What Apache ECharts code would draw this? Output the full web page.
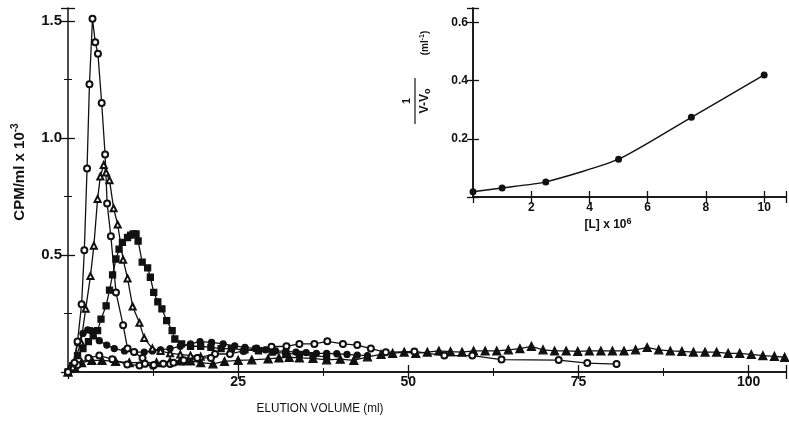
<!DOCTYPE html>
<html>
<head>
<meta charset="utf-8">
<script src="https://cdn.jsdelivr.net/npm/echarts@6/dist/echarts.min.js"></script>
<style>
  html, body { margin: 0; padding: 0; background: #fff; }
  #chart { width: 789px; height: 425px; }
</style>
</head>
<body>
<div id="chart"></div>
<script>
// elution profiles [ml, cpm/ml x 10^-3]
const openCircle = [[0,0],[0.95,0.04],[1.4,0.13],[2.0,0.29],[2.4,0.52],[2.8,0.87],[3.15,1.23],[3.6,1.51],[4.0,1.41],[4.4,1.36],[4.95,1.15],[5.45,0.93],[5.75,0.72],[6.3,0.58],[7.05,0.34],[8.1,0.2],[8.75,0.1],[9.7,0.085],[10.95,0.06],[11.3,0.035],[12.6,0.03],[14,0.035],[15.5,0.04],[17,0.05],[19,0.06],[21,0.06]];
const openTriangle = [[0,0],[0.7,0.02],[1.9,0.127],[2.6,0.27],[3.3,0.41],[3.8,0.54],[4.35,0.74],[4.75,0.836],[5.25,0.885],[5.6,0.853],[6.1,0.82],[6.7,0.70],[7.3,0.63],[8.1,0.48],[8.75,0.40],[9.5,0.28],[10.5,0.21],[11.2,0.145],[12.4,0.1],[13.6,0.09],[15,0.08],[16.5,0.075],[18,0.07],[19.5,0.065]];
const filledSquare = [[0,0],[0.7,0.027],[1.4,0.07],[2.2,0.1],[3,0.13],[3.7,0.155],[4.35,0.177],[4.85,0.226],[5.6,0.283],[6.1,0.35],[6.55,0.415],[7.05,0.483],[7.5,0.525],[8,0.554],[8.75,0.575],[9.2,0.585],[9.6,0.59],[10,0.59],[10.3,0.56],[10.9,0.47],[11.7,0.445],[12.1,0.405],[12.6,0.34],[13.2,0.3],[13.8,0.27],[14.5,0.22],[15.3,0.177],[15.7,0.141],[16.7,0.12],[18,0.11],[19.5,0.11],[21,0.105],[22.5,0.1],[24,0.1],[26,0.095],[28,0.09],[30,0.085],[32,0.08],[34,0.075],[36,0.07],[38,0.065]];
const filledCircle = [[0,0],[0.7,0.03],[1.4,0.125],[2.2,0.165],[2.9,0.18],[3.4,0.177],[4.6,0.134],[5.7,0.115],[6.8,0.1],[8.3,0.09],[9.8,0.085],[11.2,0.085],[12.4,0.09],[13.6,0.095],[15,0.1],[16.5,0.11],[18,0.12],[19.4,0.13],[21.1,0.127],[22.8,0.12],[24.5,0.112],[26,0.105],[27.5,0.1],[29,0.095],[30.5,0.09],[32,0.088],[33.5,0.085],[35,0.083],[36.5,0.08],[38,0.08],[39.5,0.078],[41,0.075],[42.5,0.072],[44,0.07]];
const openSquare = [[0,0],[1.4,0.03],[3,0.06],[4.6,0.07],[6.5,0.055],[8.7,0.032],[10.5,0.028],[12.5,0.027],[15,0.034],[17,0.045],[19.1,0.06],[21.6,0.077],[23.8,0.077],[25.8,0.09],[27.7,0.1],[29.9,0.108],[32.1,0.11],[34,0.12],[36.2,0.12],[38.1,0.131],[40.4,0.12],[42.5,0.115],[44.5,0.1],[46.7,0.084],[50.9,0.088],[55.3,0.07],[59.4,0.07],[63.7,0.053],[72.1,0.051],[76.3,0.038],[80.6,0.034]];
const filledTriangle = [[0,0],[1,0.02],[2,0.04],[3.5,0.05],[5,0.05],[7,0.045],[9,0.04],[11,0.04],[13,0.04],[15,0.045],[16.5,0.048],[18,0.048],[19.5,0.04],[21.3,0.035],[23,0.045],[25,0.05],[27,0.052],[29.4,0.056],[31,0.06],[32.5,0.063],[34,0.06],[36,0.058],[38,0.052],[40,0.055],[42,0.05],[44,0.065],[46,0.075],[47.7,0.08],[49.4,0.085],[51.1,0.08],[52.8,0.085],[54.5,0.09],[56.2,0.087],[57.9,0.085],[59.6,0.09],[61.3,0.09],[63,0.09],[64.7,0.095],[66.4,0.1],[68.1,0.11],[69.8,0.095],[71.5,0.09],[73.2,0.09],[74.9,0.088],[76.6,0.09],[78.3,0.09],[80,0.09],[81.7,0.09],[83.4,0.095],[85.1,0.105],[86.8,0.095],[88.5,0.09],[90.2,0.088],[91.9,0.085],[93.6,0.085],[95.3,0.085],[97,0.08],[98.7,0.08],[100.4,0.075],[102.1,0.07],[103.8,0.067],[105.3,0.063]];

// inset: [L] x 10^6 vs 1/(V-Vo)
const insetL = [0, 1, 2.5, 5, 7.5, 10];
const insetInv = [0.018, 0.031, 0.052, 0.13, 0.274, 0.42];

const mainXTicks = [25, 50, 75, 100];
const mainYTicks = [0.5, 1.0, 1.5];
const insetXTicks = [2, 4, 6, 8, 10];
const insetYTicks = [0.2, 0.4, 0.6];

var chart = echarts.init(document.getElementById('chart'));

var ink = '#111';
var font = 'Liberation Sans, Arial, sans-serif';
var line = { show: true, lineStyle: { color: ink, width: 1.5 } };
var tick = function (len) { return { show: true, inside: true, length: len, lineStyle: { color: ink, width: 1.3 } }; };
var minor = { show: true, splitNumber: 2, length: 4, lineStyle: { color: ink, width: 1 } };

function pickLabel(list, digits) {
	return function (v) {
		for (var i = 0; i < list.length; i++) {
			if (Math.abs(list[i] - v) < 1e-6) return digits ? v.toFixed(digits) : String(v);
		}
		return '';
	};
}

function mk(data, symbol, size) {
	return {
		type: 'line',
		data: data,
		symbol: symbol,
		symbolSize: size,
		showAllSymbol: true,
		lineStyle: { color: ink, width: 1.3 },
		itemStyle: { color: ink, borderColor: ink, borderWidth: 1.3 },
		animation: false
	};
}

var option = {
	backgroundColor: '#fff',
	animation: false,
	grid: [
		{ left: 68, right: 2, top: 8, bottom: 53 },
		{ left: 473, right: 2, top: 8, bottom: 228 }
	],
	xAxis: [{
			gridIndex: 0, type: 'value', min: 0, max: 105.5, interval: 25,
			axisLine: line, axisTick: tick(7), minorTick: minor,
			axisLabel: { formatter: pickLabel(mainXTicks), color: ink, fontFamily: font, fontWeight: 'bold', fontSize: 14, margin: 3 },
			splitLine: { show: false }
		},
		{
			gridIndex: 0, type: 'value', position: 'top', min: 0, max: 105.5, interval: 25,
			axisLine: line, axisTick: tick(7), minorTick: minor,
			axisLabel: { show: false },
			splitLine: { show: false }
		},
		{
			gridIndex: 1, type: 'value', min: 0, max: 10.75, interval: 2,
			axisLine: line, axisTick: tick(6),
			axisLabel: { formatter: pickLabel(insetXTicks), color: ink, fontFamily: font, fontWeight: 'bold', fontSize: 12, margin: 5 },
			splitLine: { show: false }
		},
		{
			gridIndex: 1, type: 'value', position: 'top', min: 0, max: 10.75, interval: 2,
			axisLine: line, axisTick: tick(6),
			axisLabel: { show: false },
			splitLine: { show: false }
		}
	],
	yAxis: [{
			gridIndex: 0, type: 'value', min: 0, max: 1.556, interval: 0.5,
			axisLine: line, axisTick: tick(7), minorTick: minor,
			axisLabel: { formatter: pickLabel(mainYTicks, 1), color: ink, fontFamily: font, fontWeight: 'bold', fontSize: 15, margin: 6 },
			splitLine: { show: false }
		},
		{
			gridIndex: 0, type: 'value', position: 'right', min: 0, max: 1.556, interval: 0.5,
			axisLine: { show: false }, axisTick: tick(7), minorTick: minor,
			axisLabel: { show: false },
			splitLine: { show: false }
		},
		{
			gridIndex: 1, type: 'value', min: 0, max: 0.65, interval: 0.2,
			axisLine: line, axisTick: tick(6),
			axisLabel: { formatter: pickLabel(insetYTicks, 1), color: ink, fontFamily: font, fontWeight: 'bold', fontSize: 12, margin: 5 },
			splitLine: { show: false }
		},
		{
			gridIndex: 1, type: 'value', position: 'right', min: 0, max: 0.65, interval: 0.2,
			axisLine: line, axisTick: tick(6),
			axisLabel: { show: false },
			splitLine: { show: false }
		}
	],
	series: [
		mk(filledTriangle, 'triangle', 8),
		mk(openSquare, 'emptyCircle', 6),
		mk(filledCircle, 'circle', 6),
		mk(filledSquare, 'rect', 6),
		mk(openTriangle, 'emptyTriangle', 6),
		mk(openCircle, 'emptyCircle', 6),
		{
			type: 'line',
			xAxisIndex: 2,
			yAxisIndex: 2,
			data: insetL.map(function (l, i) { return [l, insetInv[i]]; }),
			smooth: 0.2,
			symbol: 'circle',
			symbolSize: 7,
			lineStyle: { color: ink, width: 1.4 },
			itemStyle: { color: ink },
			animation: false
		}
	],
	graphic: [{
			type: 'text', x: 20, y: 172, rotation: Math.PI / 2,
			style: {
				text: '{n|CPM/ml x 10}{s|-3}',
				align: 'center', verticalAlign: 'middle',
				rich: {
					n: { fontFamily: font, fontWeight: 'bold', fontSize: 15, fill: ink },
					s: { fontFamily: font, fontWeight: 'bold', fontSize: 10, fill: ink, padding: [0, 0, 9, 0] }
				}
			}
		},
		{
			type: 'text', x: 320, y: 408, scaleX: 0.9,
			style: { text: 'ELUTION VOLUME (ml)', align: 'center', verticalAlign: 'middle', fontFamily: font, fontSize: 13, fill: ink }
		},
		{
			type: 'text', x: 608, y: 225,
			style: {
				text: '{n|[L] x 10}{s|6}',
				align: 'center', verticalAlign: 'middle',
				rich: {
					n: { fontFamily: font, fontWeight: 'bold', fontSize: 12, fill: ink },
					s: { fontFamily: font, fontWeight: 'bold', fontSize: 9, fill: ink, padding: [0, 0, 7, 0] }
				}
			}
		},
		{
			type: 'group', x: 415, y: 101, rotation: Math.PI / 2,
			children: [{
					type: 'text', x: 0, y: -8,
					style: { text: '1', align: 'center', verticalAlign: 'middle', fontFamily: font, fontWeight: 'bold', fontSize: 11, fill: ink }
				},
				{
					type: 'line', shape: { x1: -23, y1: 0, x2: 23, y2: 0 },
					style: { stroke: ink, lineWidth: 1.2 }
				},
				{
					type: 'text', x: 0, y: 10,
					style: {
						text: '{n|V-V}{s|o}',
						align: 'center', verticalAlign: 'middle',
						rich: {
							n: { fontFamily: font, fontWeight: 'bold', fontSize: 12, fill: ink },
							s: { fontFamily: font, fontWeight: 'bold', fontSize: 9, fill: ink, padding: [5, 0, 0, 0] }
						}
					}
				},
				{
					type: 'text', x: 58, y: 10,
					style: {
						text: '{n|(ml}{s|-1}{n|)}',
						align: 'center', verticalAlign: 'middle',
						rich: {
							n: { fontFamily: font, fontWeight: 'bold', fontSize: 10, fill: ink },
							s: { fontFamily: font, fontWeight: 'bold', fontSize: 7, fill: ink, padding: [0, 0, 6, 0] }
						}
					}
				}
			]
		}
	]
};

chart.setOption(option);
</script>
</body>
</html>
